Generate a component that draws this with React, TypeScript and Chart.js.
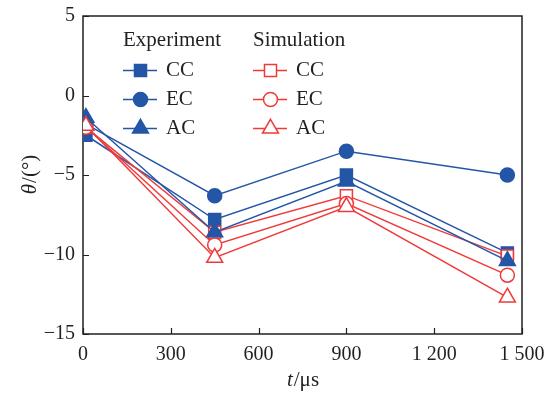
import React, { useEffect, useRef } from 'react';
import { Chart, registerables } from 'chart.js';

Chart.register(...registerables);

// ---- data ----
const times = [10, 450, 900, 1450];
const expCC = [-2.5, -7.8, -5.0, -9.9];
const expEC = [-1.8, -6.3, -3.5, -5.0];
const expAC = [-1.4, -8.6, -5.4, -10.4];
const simCC = [-2.0, -8.6, -6.3, -10.1];
const simEC = [-2.0, -9.4, -6.8, -11.3];
const simAC = [-1.9, -10.2, -7.0, -12.7];
const xTicks = [0, 300, 600, 900, 1200, 1500];
const yTicks = [-15, -10, -5, 0, 5];
const legendHeaders = ['Experiment', 'Simulation'];
const seriesNames = ['CC', 'EC', 'AC'];

const FONT = '"Liberation Serif", "Times New Roman", serif';
const BLUE = '#2356a6';
const RED = '#f03a3a';
const INK = '#231f20';
const STYLES = ['rect', 'circle', 'triangle'];
const RADII = [8.5, 7, 9.2];

function drawMarker(ctx: CanvasRenderingContext2D, style: string, x: number, y: number, r: number, fill: string, stroke: string, lw: number) {
  ctx.save();
  ctx.beginPath();
  if (style === 'rect') {
    const s = Math.SQRT1_2 * r;
    ctx.rect(x - s, y - s, 2 * s, 2 * s);
  } else if (style === 'circle') {
    ctx.arc(x, y, r, 0, Math.PI * 2);
  } else {
    let rad = 0;
    const step = (2 * Math.PI) / 3;
    ctx.moveTo(x + Math.sin(rad) * r, y - Math.cos(rad) * r);
    rad += step;
    ctx.lineTo(x + Math.sin(rad) * r, y - Math.cos(rad) * r);
    rad += step;
    ctx.lineTo(x + Math.sin(rad) * r, y - Math.cos(rad) * r);
    ctx.closePath();
  }
  ctx.fillStyle = fill;
  ctx.fill();
  ctx.lineWidth = lw;
  ctx.strokeStyle = stroke;
  ctx.stroke();
  ctx.restore();
}

const framePlugin = {
  id: 'frame',
  beforeDatasetsDraw(chart: any) {
    const { ctx, chartArea: a, scales } = chart;
    ctx.save();
    ctx.strokeStyle = INK;
    ctx.lineWidth = 1.5;
    ctx.strokeRect(a.left, a.top, a.right - a.left, a.bottom - a.top);
    ctx.lineWidth = 1.2;
    ctx.beginPath();
    for (const v of xTicks) {
      const px = Math.round(scales.x.getPixelForValue(v)) + 0.5;
      ctx.moveTo(px, a.bottom);
      ctx.lineTo(px, a.bottom - 6);
    }
    for (const v of yTicks) {
      const py = Math.round(scales.y.getPixelForValue(v)) + 0.5;
      ctx.moveTo(a.left, py);
      ctx.lineTo(a.left + 6, py);
    }
    ctx.stroke();
    ctx.restore();
  },
  afterDraw(chart: any) {
    const { ctx, chartArea: a } = chart;
    ctx.save();
    ctx.fillStyle = INK;
    ctx.textBaseline = 'middle';
    // x title
    const it = 'italic 21px ' + FONT;
    const nt = '21px ' + FONT;
    ctx.font = it;
    const wT = ctx.measureText('t').width;
    ctx.font = nt;
    const wR = ctx.measureText('/μs').width;
    const cx = (a.left + a.right) / 2;
    let sx = cx - (wT + wR) / 2;
    ctx.textAlign = 'left';
    ctx.font = it;
    ctx.fillText('t', sx, 380);
    ctx.font = nt;
    ctx.fillText('/μs', sx + wT + 1, 380);
    // y title
    ctx.save();
    ctx.translate(30, (a.top + a.bottom) / 2);
    ctx.rotate(-Math.PI / 2);
    ctx.font = it;
    const wTh = ctx.measureText('θ').width;
    ctx.font = nt;
    const wRest = ctx.measureText('/(°)').width;
    sx = -(wTh + wRest) / 2;
    ctx.font = it;
    ctx.fillText('θ', sx, 0);
    ctx.font = nt;
    ctx.fillText('/(°)', sx + wTh + 1, 0);
    ctx.restore();
    // legend
    const colX = [123, 253];
    const rowY = [70.5, 99.5, 128.5];
    ctx.font = nt;
    for (let c = 0; c < 2; c++) {
      ctx.fillStyle = INK;
      ctx.fillText(legendHeaders[c], colX[c], 40);
      const color = c === 0 ? BLUE : RED;
      for (let r = 0; r < 3; r++) {
        const y = rowY[r];
        ctx.strokeStyle = color;
        ctx.lineWidth = 1.5;
        ctx.beginPath();
        ctx.moveTo(colX[c], y);
        ctx.lineTo(colX[c] + 34, y);
        ctx.stroke();
        drawMarker(ctx, STYLES[r], colX[c] + 17.5, y, RADII[r], c === 0 ? BLUE : '#ffffff', color, 1.5);
        ctx.fillStyle = INK;
        ctx.fillText(seriesNames[r], colX[c] + 43, y);
      }
    }
    ctx.restore();
  },
};

function pts(vals: number[]) {
  return times.map((t, i) => ({ x: t, y: vals[i] }));
}

export default function App() {
  const ref = useRef<HTMLCanvasElement>(null);
  useEffect(() => {
    if (!ref.current) return;
    const mk = (label: string, vals: number[], idx: number, exp: boolean, order: number) => ({
      label,
      data: pts(vals),
      borderColor: exp ? BLUE : RED,
      backgroundColor: exp ? BLUE : '#ffffff',
      pointBackgroundColor: exp ? BLUE : '#ffffff',
      pointBorderColor: exp ? BLUE : RED,
      pointBorderWidth: 1.5,
      pointStyle: STYLES[idx],
      pointRadius: RADII[idx],
      borderWidth: 1.5,
      tension: 0,
      fill: false,
      order,
    });
    const chart = new Chart(ref.current, {
      type: 'line',
      data: {
        datasets: [
          mk('Experiment CC', expCC, 0, true, 6),
          mk('Simulation CC', simCC, 0, false, 5),
          mk('Experiment EC', expEC, 1, true, 4),
          mk('Simulation EC', simEC, 1, false, 3),
          mk('Experiment AC', expAC, 2, true, 2),
          mk('Simulation AC', simAC, 2, false, 1),
        ],
      },
      options: {
        responsive: false,
        animation: false,
        layout: { padding: { top: 16, right: 26, left: 0, bottom: 0 } },
        plugins: { legend: { display: false }, tooltip: { enabled: false } },
        scales: {
          x: {
            type: 'linear',
            min: 0,
            max: 1500,
            grid: { display: false, drawTicks: false },
            border: { display: false },
            afterBuildTicks: (s: any) => { s.ticks = xTicks.map((v) => ({ value: v })); },
            afterFit: (s: any) => { s.height = 60; s.paddingLeft = 0; s.paddingRight = 0; },
            ticks: {
              autoSkip: false,
              maxRotation: 0,
              padding: 9,
              color: INK,
              font: { family: FONT, size: 20 },
              callback: (v: any) => {
                const n = Number(v);
                return n >= 1000 ? `${Math.floor(n / 1000)} ${String(n % 1000).padStart(3, '0')}` : String(n);
              },
            },
          },
          y: {
            type: 'linear',
            min: -15,
            max: 5,
            grid: { display: false, drawTicks: false },
            border: { display: false },
            afterBuildTicks: (s: any) => { s.ticks = yTicks.map((v) => ({ value: v })); },
            afterFit: (s: any) => { s.width = 83; s.paddingTop = 0; s.paddingBottom = 0; },
            ticks: {
              autoSkip: false,
              padding: 8,
              color: INK,
              font: { family: FONT, size: 20 },
              callback: (v: any) => {
                const n = Number(v);
                return n < 0 ? '\u2212' + Math.abs(n) : String(n);
              },
            },
          },
        },
      },
      plugins: [framePlugin],
    });
    return () => chart.destroy();
  }, []);
  return (
    <div style={{ position: 'absolute', left: 0, top: 0, width: 548, height: 394, background: '#fff' }}>
      <canvas ref={ref} width={548} height={394} style={{ display: 'block' }} />
    </div>
  );
}
